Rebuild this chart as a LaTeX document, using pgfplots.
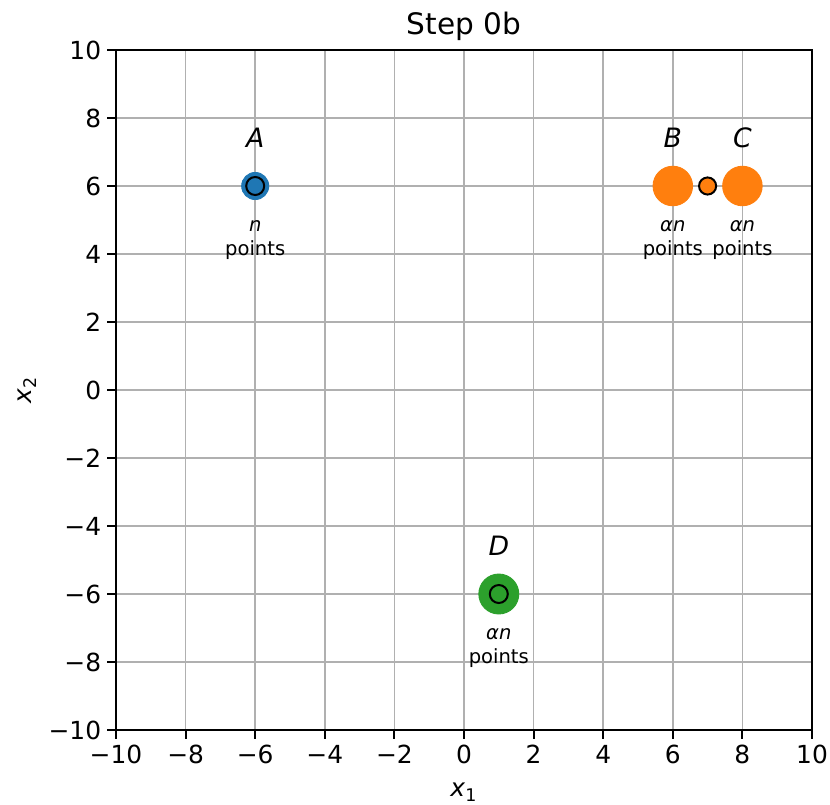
\documentclass[border=0pt]{standalone}
\usepackage{pgfplots}
\pgfplotsset{compat=1.18}
\usepackage{fontspec}
\setmainfont{DejaVu Sans}
\definecolor{tabblue}{HTML}{1F77B4}
\definecolor{taborange}{HTML}{FF7F0E}
\definecolor{tabgreen}{HTML}{2CA02C}
\definecolor{gridgray}{HTML}{B0B0B0}
\begin{document}
\begin{tikzpicture}
\begin{axis}[
  scale only axis, width=313.2pt, height=306pt,
  xmin=-10, xmax=10, ymin=-10, ymax=10,
  xtick={-10,-8,...,10}, ytick={-10,-8,...,10},
  xticklabels={−10,−8,−6,−4,−2,0,2,4,6,8,10},
  yticklabels={−10,−8,−6,−4,−2,0,2,4,6,8,10},
  tick label style={font=\fontsize{11.2}{13}\selectfont},
  xticklabel style={inner sep=2.5pt},
  yticklabel style={inner sep=2.5pt},
  grid=major, grid style={gridgray, line width=0.72pt},
  axis line style={line width=0.9pt},
  tick style={black, line width=0.9pt},
  tick align=outside, major tick length=4pt,
  xtick pos=bottom, ytick pos=left,
  /pgf/number format/assume math mode=true,
  clip=false,
]
\coordinate (sw) at (rel axis cs:0,0);
\coordinate (ne) at (rel axis cs:1,1);
% clusters
\addplot[only marks, mark=*, mark size=6.1pt, mark options={fill=tabblue, draw=tabblue}] coordinates {(-6,6)};
\addplot[only marks, mark=*, mark size=8.9pt, mark options={fill=taborange, draw=taborange}] coordinates {(6,6) (8,6)};
\addplot[only marks, mark=*, mark size=9pt, mark options={fill=tabgreen, draw=tabgreen}] coordinates {(1,-6)};
% centroids
\addplot[only marks, mark=*, mark size=4.05pt, mark options={fill=tabblue, draw=black, line width=0.9pt}] coordinates {(-6,6)};
\addplot[only marks, mark=*, mark size=3.85pt, mark options={fill=taborange, draw=black, line width=0.9pt}] coordinates {(7,6)};
\addplot[only marks, mark=*, mark size=4.05pt, mark options={fill=tabgreen, draw=black, line width=0.9pt}] coordinates {(1,-6)};
% labels
\node[font=\fontsize{12}{14}\selectfont\itshape] at (axis cs:-6,7.41) {A};
\node[font=\fontsize{12}{14}\selectfont\itshape] at (axis cs:6,7.41) {B};
\node[font=\fontsize{12}{14}\selectfont\itshape] at (axis cs:8,7.41) {C};
\node[font=\fontsize{12}{14}\selectfont\itshape] at (axis cs:1,-4.59) {D};
\node[font=\fontsize{8.8}{10.4}\selectfont, align=center] at (axis cs:-6,4.41) {\textit{n}\\points};
\node[font=\fontsize{8.8}{10.4}\selectfont, align=center] at (axis cs:6,4.41) {\textit{αn}\\points};
\node[font=\fontsize{8.8}{10.4}\selectfont, align=center] at (axis cs:8,4.41) {\textit{αn}\\points};
\node[font=\fontsize{8.8}{10.4}\selectfont, align=center] at (axis cs:1,-7.59) {\textit{αn}\\points};
% title and axis labels
\node[anchor=base, font=\fontsize{13.3}{15}\selectfont] at ([yshift=6.9pt]rel axis cs:0.5,1) {Step 0b};
\node[anchor=base, font=\fontsize{11.2}{13}\selectfont] at ([yshift=-30pt]rel axis cs:0.5,0) {\textit{x}\textsubscript{1}};
\node[anchor=base, rotate=90, font=\fontsize{11.2}{13}\selectfont] at ([xshift=-37.8pt]rel axis cs:0,0.5) {\textit{x}\textsubscript{2}};
\end{axis}
\pgfresetboundingbox
\useasboundingbox ([xshift=-52.2pt,yshift=-33.3pt]sw) rectangle ([xshift=8.1pt,yshift=22.5pt]ne);
\end{tikzpicture}
\end{document}
